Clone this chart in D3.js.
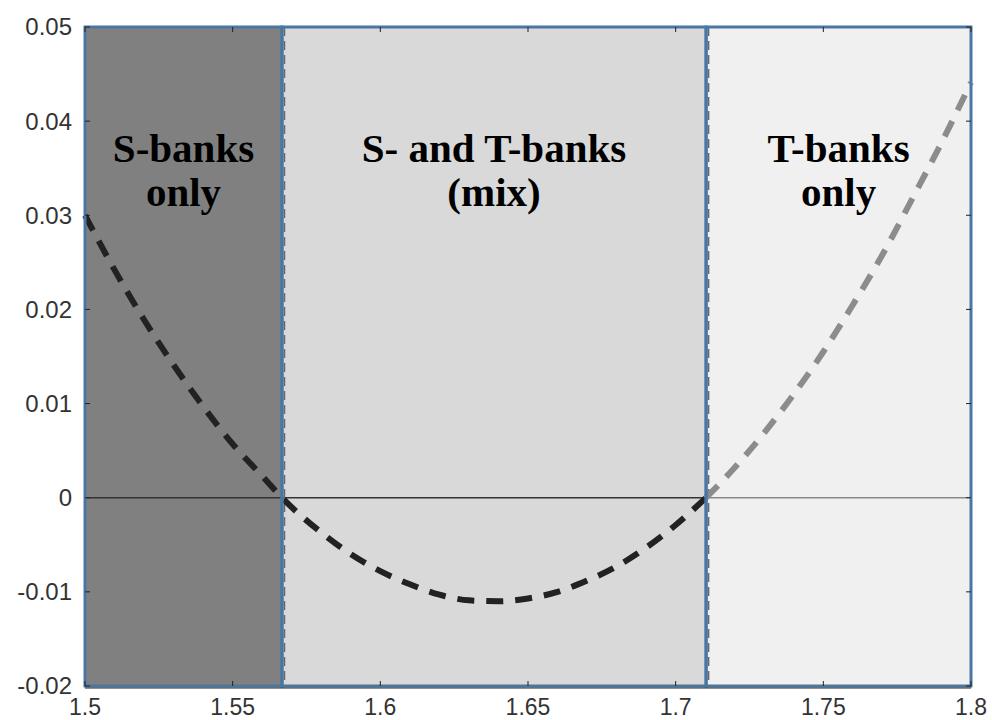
<!DOCTYPE html>
<html><head><meta charset="utf-8">
<script src="https://cdnjs.cloudflare.com/ajax/libs/d3/7.8.5/d3.min.js"></script>
<style>body{margin:0;background:#fff;} svg{display:block;}</style>
</head><body><svg id="c" width="992" height="720"></svg>
<script>
// Data
const xTicks = [1.5, 1.55, 1.6, 1.65, 1.7, 1.75, 1.8];
const xTickLabels = ["1.5", "1.55", "1.6", "1.65", "1.7", "1.75", "1.8"];
const yTicks = [-0.02, -0.01, 0, 0.01, 0.02, 0.03, 0.04, 0.05];
const yTickLabels = ["-0.02", "-0.01", "0", "0.01", "0.02", "0.03", "0.04", "0.05"];
const regionStarts = [1.5, 1.5667, 1.7103];
const regionEnds = [1.5667, 1.7103, 1.8];
const regionLabels1 = ["S-banks", "S- and T-banks", "T-banks"];
const regionLabels2 = ["only", "(mix)", "only"];
const regionFills = ["#808080", "#d9d9d9", "#f0f0f0"];
const curveX1 = [1.5, 1.51, 1.52, 1.53, 1.54, 1.55, 1.56, 1.5667, 1.58, 1.59, 1.6, 1.61, 1.62, 1.63, 1.64, 1.65, 1.66, 1.67, 1.68, 1.69, 1.7, 1.7103];
const curveY1 = [0.0300, 0.0242, 0.0189, 0.0141, 0.0097, 0.0057, 0.0023, 0, -0.0037, -0.0060, -0.0078, -0.0092, -0.0103, -0.0109, -0.0110, -0.0107, -0.0100, -0.0088, -0.0073, -0.0053, -0.0029, 0];
const curveX2 = [1.7103, 1.72, 1.73, 1.74, 1.75, 1.76, 1.77, 1.78, 1.79, 1.8];
const curveY2 = [0, 0.0032, 0.0069, 0.0110, 0.0155, 0.0205, 0.0258, 0.0317, 0.0377, 0.0441];

const svg = d3.select("#c");
const L = 85, R = 971, T = 27, B = 686;
const x = d3.scaleLinear().domain([1.5, 1.8]).range([L, R]);
const y = d3.scaleLinear().domain([-0.02, 0.05]).range([B, T]);

// regions
regionStarts.forEach((s, i) => {
  svg.append("rect").attr("x", x(s)).attr("y", T).attr("width", x(regionEnds[i]) - x(s)).attr("height", B - T)
    .attr("fill", regionFills[i]);
});

// zero line
svg.append("line").attr("x1", x(1.5)).attr("x2", x(regionEnds[1])).attr("y1", y(0)).attr("y2", y(0))
  .attr("stroke", "#333").attr("stroke-width", 1.5);
svg.append("line").attr("x1", x(regionStarts[2])).attr("x2", x(1.8)).attr("y1", y(0)).attr("y2", y(0))
  .attr("stroke", "#8a8a8a").attr("stroke-width", 1.5);

// dashed boundary lines
[regionStarts[1], regionStarts[2]].forEach(b => {
  svg.append("line").attr("x1", x(b) + 2.5).attr("x2", x(b) + 2.5).attr("y1", T).attr("y2", B)
    .attr("stroke", "#666").attr("stroke-width", 1.5).attr("stroke-dasharray", "9,5");
});

// curves
const line = d3.line().x(d => x(d[0])).y(d => y(d[1])).curve(d3.curveMonotoneX);
svg.append("path").datum(curveX1.map((v, i) => [v, curveY1[i]])).attr("d", line)
  .attr("fill", "none").attr("stroke", "#222").attr("stroke-width", 6).attr("stroke-dasharray", "17,12");
svg.append("path").datum(curveX2.map((v, i) => [v, curveY2[i]])).attr("d", line)
  .attr("fill", "none").attr("stroke", "#8c8c8c").attr("stroke-width", 6).attr("stroke-dasharray", "17,12");

// region borders
regionStarts.forEach((s, i) => {
  svg.append("rect").attr("x", x(s)).attr("y", T).attr("width", x(regionEnds[i]) - x(s)).attr("height", B - T)
    .attr("fill", "none").attr("stroke", "#4a76a3").attr("stroke-width", 3);
});

// ticks
const tk = 5;
xTicks.forEach(t => {
  svg.append("line").attr("x1", x(t)).attr("x2", x(t)).attr("y1", B).attr("y2", B - tk).attr("stroke", "#222").attr("stroke-width", 1);
  svg.append("line").attr("x1", x(t)).attr("x2", x(t)).attr("y1", T).attr("y2", T + tk).attr("stroke", "#222").attr("stroke-width", 1);
});
yTicks.forEach(t => {
  svg.append("line").attr("x1", L).attr("x2", L + tk).attr("y1", y(t)).attr("y2", y(t)).attr("stroke", "#222").attr("stroke-width", 1);
  svg.append("line").attr("x1", R).attr("x2", R - tk).attr("y1", y(t)).attr("y2", y(t)).attr("stroke", "#222").attr("stroke-width", 1);
});
svg.append("line").attr("x1", L).attr("x2", R).attr("y1", B + 2).attr("y2", B + 2).attr("stroke", "#222").attr("stroke-width", 1);

// tick labels
svg.selectAll(".xl").data(xTicks).enter().append("text")
  .attr("x", d => x(d)).attr("y", 715).attr("text-anchor", "middle")
  .attr("font-family", "Liberation Sans, Arial, sans-serif").attr("font-size", 23).attr("fill", "#333")
  .text((d, i) => xTickLabels[i]);
svg.selectAll(".yl").data(yTicks).enter().append("text")
  .attr("x", 72).attr("y", d => y(d)).attr("dy", "0.35em").attr("text-anchor", "end")
  .attr("font-family", "Liberation Sans, Arial, sans-serif").attr("font-size", 24).attr("fill", "#333")
  .text((d, i) => yTickLabels[i]);

// region labels
regionStarts.forEach((s, i) => {
  const cx = (x(s) + x(regionEnds[i])) / 2;
  const g = svg.append("text").attr("text-anchor", "middle")
    .attr("font-family", "Liberation Serif, Times New Roman, serif").attr("font-weight", "bold")
    .attr("font-size", 41).attr("fill", "#000");
  g.append("tspan").attr("x", cx).attr("y", 162).text(regionLabels1[i]);
  g.append("tspan").attr("x", cx).attr("y", 206).text(regionLabels2[i]);
});
</script></body></html>
